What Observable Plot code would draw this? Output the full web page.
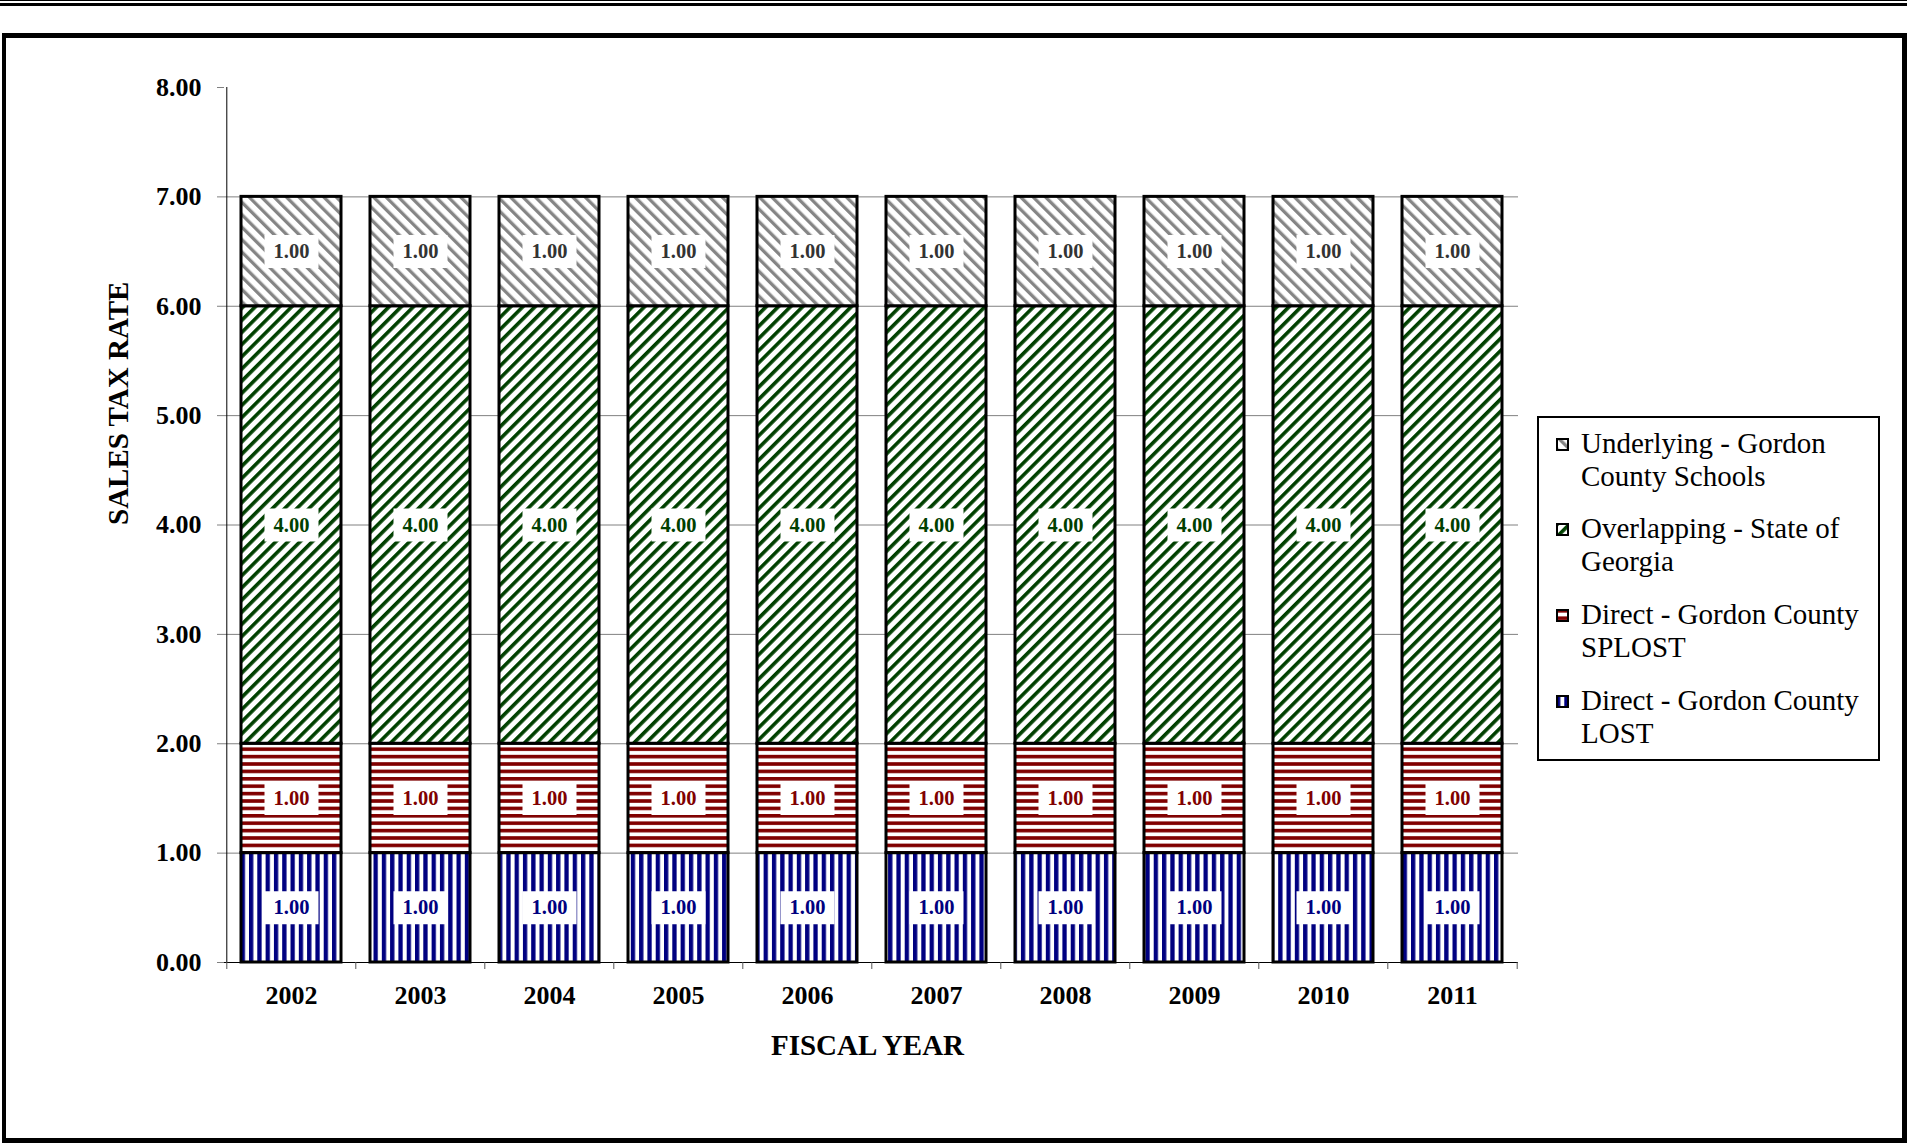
<!DOCTYPE html>
<html>
<head>
<meta charset="utf-8">
<script src="https://cdn.jsdelivr.net/npm/d3@7"></script>
<script src="https://cdn.jsdelivr.net/npm/@observablehq/plot@0.6"></script>
<style>
html, body { margin: 0; padding: 0; background: #fff; overflow: hidden; }
#wrap { position: relative; width: 1907px; height: 1143px; font-family: "Liberation Serif", "Times New Roman", serif; }
#line1 { position: absolute; left: 0; top: 0; width: 1907px; height: 1px; background: #000; }
#line2 { position: absolute; left: 0; top: 3px; width: 1907px; height: 3px; background: #000; }
#frame { position: absolute; left: 2px; top: 33px; width: 1905px; height: 1110px; box-sizing: border-box;
         border: 5px solid #000; border-left-width: 4px; }
#chart { position: absolute; left: 0; top: 0; }
#legend { position: absolute; left: 1537px; top: 416px; width: 343px; height: 345px; box-sizing: border-box;
          border: 2px solid #000; background: #fff; }
#legend .item { position: absolute; left: 0; width: 339px; height: 70px; }
#legend .item svg { position: absolute; left: 17px; top: 11px; }
#legend .lab { position: absolute; left: 42px; top: 0; width: 292px; font-size: 29px; line-height: 33px; color: #000; }
</style>
</head>
<body>
<div id="wrap">
  <div id="line1"></div>
  <div id="line2"></div>
  <div id="frame"></div>
  <div id="chart"></div>
  <div id="legend"></div>
</div>
<script>
// ---- data ----
const years = [2002, 2003, 2004, 2005, 2006, 2007, 2008, 2009, 2010, 2011];
const seriesNames = [
  "Direct - Gordon County LOST",
  "Direct - Gordon County SPLOST",
  "Overlapping - State of Georgia",
  "Underlying - Gordon County Schools"
];
const lostRates   = [1.00, 1.00, 1.00, 1.00, 1.00, 1.00, 1.00, 1.00, 1.00, 1.00];
const splostRates = [1.00, 1.00, 1.00, 1.00, 1.00, 1.00, 1.00, 1.00, 1.00, 1.00];
const stateRates  = [4.00, 4.00, 4.00, 4.00, 4.00, 4.00, 4.00, 4.00, 4.00, 4.00];
const schoolRates = [1.00, 1.00, 1.00, 1.00, 1.00, 1.00, 1.00, 1.00, 1.00, 1.00];
const yTicks = [0, 1, 2, 3, 4, 5, 6, 7, 8];
const gridValues = [1, 2, 3, 4, 5, 6, 7];
const yTitle = "SALES TAX RATE";
const xTitle = "FISCAL YEAR";

// ---- styles ----
const seriesIds = ["lost", "splost", "state", "schools"];
const labelColors = ["#000080", "#800000", "#004000", "#333333"];

// ---- table ----
const rateSeries = [lostRates, splostRates, stateRates, schoolRates];
const table = [];
years.forEach((yr, i) => {
  seriesNames.forEach((s, k) => table.push({ year: String(yr), series: s, value: rateSeries[k][i] }));
});

const W = 1907, H = 1143, ML = 224, MR = 389, MT = 87, MB = 181;
const step = (W - ML - MR) / years.length;
const boxSymbol = { draw(ctx) { ctx.rect(-27, -16.5, 54, 33); } };
const stackOpts = { x: "year", y: "value", z: "series" };
const fontFamily = '"Liberation Serif", "Times New Roman", serif';

const plot = Plot.plot({
  width: W, height: H,
  marginLeft: ML, marginRight: MR, marginTop: MT, marginBottom: MB,
  style: { background: "none", fontFamily, overflow: "visible" },
  x: { domain: years.map(String), paddingInner: 0.227, paddingOuter: 0.1135, label: null },
  y: { domain: [0, 8], label: null },
  color: { domain: seriesNames, range: seriesIds.map(id => `url(#pat-${id})`) },
  marks: [
    Plot.ruleY(gridValues, { stroke: "#808080", strokeWidth: 1 }),
    Plot.barY(table, Plot.stackY({ ...stackOpts, fill: "series", stroke: "#000", strokeWidth: 3 })),
    Plot.ruleY([0], { stroke: "#000", strokeWidth: 1 }),
    Plot.ruleX([String(years[0])], { x: d => d, dx: -step / 2, y1: 0, y2: 8, stroke: "#000", strokeWidth: 1 }),
    Plot.ruleX(years.map(String), { x: d => d, dx: -step / 2, y1: 0, y2: 0, insetBottom: -7, stroke: "#555" }),
    Plot.ruleX([String(years[years.length - 1])], { x: d => d, dx: step / 2, y1: 0, y2: 0, insetBottom: -7, stroke: "#555" }),
    Plot.dot(table, Plot.stackY({ ...stackOpts, symbol: boxSymbol, r: 10, fill: "#fff" })),
    ...seriesNames.map((s, k) => Plot.text(table, Plot.stackY({
      ...stackOpts,
      text: d => d.series === s ? d.value.toFixed(2) : null,
      fill: labelColors[k], fontSize: 20.5, fontWeight: "bold"
    }))),
    Plot.axisY(yTicks, {
      tickSize: 7, tickPadding: 16, tickFormat: d => d.toFixed(2),
      fontSize: 26, fontWeight: "bold", stroke: "#808080", fill: "#000", label: null
    }),
    Plot.axisX({ tickSize: 0, tickPadding: 23, fontSize: 26, fontWeight: "bold", fill: "#000", label: null }),
    Plot.text([yTitle], { text: d => d, frameAnchor: "left", dx: -106, rotate: -90, fontSize: 29, fontWeight: "bold", fill: "#000" }),
    Plot.text([xTitle], { text: d => d, frameAnchor: "bottom", dx: -4, dy: 92, fontSize: 29, fontWeight: "bold", fill: "#000" })
  ]
});

// pattern definitions
const defs = d3.select(plot).insert("defs", ":first-child");
function diag(id, color, angle, period, thick) {
  const p = defs.append("pattern").attr("id", id).attr("patternUnits", "userSpaceOnUse")
    .attr("width", period).attr("height", period).attr("patternTransform", `rotate(${angle})`);
  p.append("rect").attr("width", period).attr("height", period).attr("fill", "#fff");
  p.append("rect").attr("x", 0).attr("width", thick).attr("height", period).attr("fill", color);
}
diag("pat-schools", "#858585", -45, 8.8, 3.3);
diag("pat-state", "#004000", 45, 8.6, 3.6);
{
  const p = defs.append("pattern").attr("id", "pat-splost").attr("patternUnits", "userSpaceOnUse")
    .attr("width", 10).attr("height", 7.4);
  p.append("rect").attr("width", 10).attr("height", 7.4).attr("fill", "#fff");
  p.append("rect").attr("y", 0).attr("width", 10).attr("height", 3.6).attr("fill", "#800000");
}
{
  const p = defs.append("pattern").attr("id", "pat-lost").attr("patternUnits", "userSpaceOnUse")
    .attr("width", 8.3).attr("height", 10);
  p.append("rect").attr("width", 8.3).attr("height", 10).attr("fill", "#fff");
  p.append("rect").attr("x", 0).attr("width", 4.3).attr("height", 10).attr("fill", "#000080");
}

document.getElementById("chart").appendChild(plot);

// legend
const legend = d3.select("#legend");
[3, 2, 1, 0].forEach((k, j) => {
  const item = legend.append("div").attr("class", "item").style("top", `${8.7 + j * 85.6}px`);
  item.append("svg").attr("width", 13).attr("height", 13)
    .append("rect").attr("x", 1).attr("y", 1).attr("width", 11).attr("height", 11)
    .attr("fill", `url(#pat-${seriesIds[k]})`).attr("stroke", "#000").attr("stroke-width", 2);
  item.append("div").attr("class", "lab").text(seriesNames[k]);
});
</script>
</body>
</html>
